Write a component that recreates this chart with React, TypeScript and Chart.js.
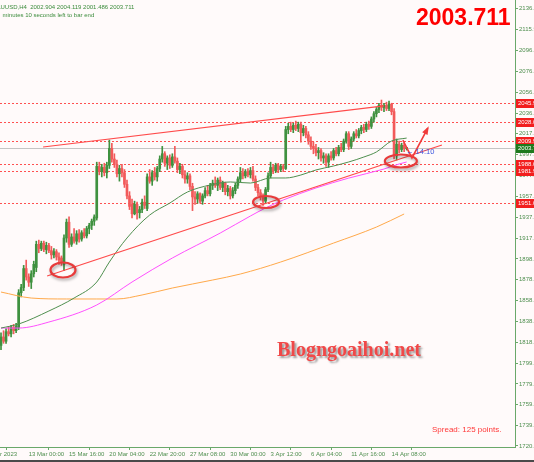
import React, { useEffect, useRef } from "react";
import { Chart, registerables } from "chart.js";
Chart.register(...registerables);

// ---------- data (XAUUSD, H4) ----------
const OPEN = [1816,1824,1820,1829,1827,1833,1830,1833,1866,1871, 1889,1881,1876,1884,1890,1912,1908,1913,1907,1911, 1906,1902,1905,1900,1899,1893,1918,1933,1912,1919, 1915,1922,1917,1923,1920,1927,1930,1934,1937,1986, 1981,1985,1980,1987,2003,1993,1988,1979,1984,1980, 1969,1958,1950,1941,1950,1942,1945,1952,1946,1976, 1972,1980,1976,1984,1993,1998,1989,1994,1987,1995, 1991,1983,1986,1978,1974,1977,1967,1957,1955,1960, 1953,1958,1963,1960,1968,1970,1968,1973,1966,1970, 1962,1965,1958,1963,1968,1974,1980,1977,1981,1978, 1982,1974,1966,1961,1957,1953,1964,1977,1985,1982, 1987,1983,1986,1984,2021,2024,2021,2025,2022,2026, 2018,2022,2016,2010,2005,2003,1999,2001,1994,1996, 1990,1996,1994,2001,1998,2004,2002,2010,2017,2005, 2012,2017,2015,2020,2023,2021,2026,2024,2031,2036, 2040,2044,2042,2044,2041,2045,2038,1996,2007,2002, 2006,2002.904];
const HIGH = [1828,1830,1832,1834,1835,1836,1837,1869,1874,1892, 1897,1884,1887,1896,1915,1916,1915,1915,1914,1913, 1910,1908,1907,1904,1901,1921,1936,1938,1922,1927, 1925,1926,1925,1927,1929,1932,1936,1940,1990,1990, 1988,1989,1990,2011,2008,1998,1992,1987,1988,1983, 1973,1962,1955,1953,1952,1948,1955,1958,1979,1983, 1982,1985,1986,1996,2005,2000,1996,1997,1998,2005, 1994,1989,1988,1982,1980,1979,1970,1962,1962,1961, 1960,1966,1968,1970,1973,1976,1975,1976,1972,1971, 1968,1967,1966,1970,1976,1985,1984,1983,1984,1985, 1986,1977,1969,1964,1960,1966,1980,1990,1988,1989, 1989,1988,1988,2024,2027,2028,2027,2029,2028,2028, 2025,2024,2019,2014,2009,2007,2004,2003,1999,1998, 1998,2000,2003,2004,2006,2008,2012,2019,2019,2014, 2019,2021,2022,2025,2026,2028,2029,2033,2038,2042, 2046,2049,2046,2047,2048,2046,2041,2012,2010,2008, 2008,2004.119];
const LOW = [1812,1818,1818,1825,1824,1827,1828,1831,1862,1868, 1878,1872,1870,1881,1886,1904,1906,1905,1903,1904, 1898,1899,1897,1893,1892,1887,1914,1909,1910,1913, 1912,1914,1915,1918,1918,1922,1926,1930,1935,1978, 1976,1977,1975,1984,1990,1985,1976,1972,1976,1966, 1955,1945,1937,1940,1936,1937,1942,1946,1944,1970, 1968,1973,1972,1981,1990,1986,1983,1984,1985,1989, 1980,1979,1975,1970,1970,1964,1944,1950,1951,1951, 1950,1956,1958,1958,1964,1966,1963,1964,1962,1959, 1958,1955,1956,1960,1965,1971,1974,1975,1976,1975, 1972,1963,1958,1954,1949,1951,1962,1975,1979,1980, 1980,1981,1981,1983,2017,2019,2018,2020,2019,2009, 2015,2013,2007,2002,1998,1996,1993,1991,1989,1986, 1985,1992,1992,1996,1996,2000,2000,2008,2002,2003, 2010,2013,2013,2017,2018,2019,2021,2022,2028,2033, 2037,2039,2038,2039,2039,2035,1993,1992,1999,2000, 2000,2001.486];
const CLOSE = [1824,1820,1829,1827,1833,1830,1834,1866,1871,1889, 1881,1876,1884,1893,1912,1908,1913,1907,1911,1906, 1902,1905,1900,1897,1895,1918,1933,1912,1919,1915, 1922,1917,1923,1920,1927,1930,1934,1938,1986,1981, 1985,1980,1987,2003,1993,1988,1979,1984,1980,1969, 1958,1948,1941,1950,1942,1945,1952,1949,1976,1972, 1980,1976,1984,1993,1998,1989,1994,1987,1995,1991, 1983,1986,1978,1974,1977,1967,1957,1955,1960,1953, 1958,1963,1960,1968,1970,1968,1973,1966,1970,1962, 1965,1958,1963,1968,1974,1980,1977,1981,1978,1982, 1974,1966,1961,1957,1953,1964,1977,1985,1982,1987, 1983,1986,1984,2021,2024,2021,2025,2022,2026,2018, 2022,2016,2010,2005,2003,1999,2001,1994,1996,1990, 1996,1994,2001,1998,2004,2002,2010,2017,2005,2012, 2017,2015,2020,2023,2021,2026,2024,2031,2036,2040, 2044,2042,2044,2041,2045,2038,1996,2007,2002,2006, 2002.904,2003.711];

// moving averages (bar index, value)
const FAST_MA_BARS = [0, 7, 19, 29, 38, 43, 50, 59, 67, 74, 83, 91, 99, 107, 113, 119, 125, 132, 138, 144, 149, 155, 161];
const FAST_MA = [1832.5, 1836.3, 1848.7, 1861.0, 1876.2, 1895.2, 1918.0, 1939.8, 1951.2, 1961.7, 1968.3, 1971.2, 1970.2, 1975.0, 1975.0, 1977.8, 1982.6, 1986.4, 1990.2, 1994.9, 1999.7, 2010.1, 2012.9];
const MID_MA_BARS = [0, 7, 19, 38, 52, 68, 87, 99, 105, 112, 125, 138, 152, 158, 161];
const MID_MA = [1832.5, 1832.5, 1838.2, 1854.4, 1876.2, 1899.0, 1922.7, 1938.9, 1946.5, 1954.1, 1965.5, 1974.9, 1983.5, 1988.3, 1990.2];
const SLOW_MA_BARS = [0, 12, 26, 38, 46, 56, 68, 84, 95, 111, 132, 149, 160];
const SLOW_MA = [1866.7, 1861.0, 1860.1, 1860.1, 1860.1, 1863.9, 1870.5, 1878.1, 1883.8, 1895.2, 1913.2, 1928.4, 1940.8];

// drawn objects
const UPPER_TREND_BARS = [16.7, 152];
const UPPER_TREND = [2004.4, 2043.5];
const LOWER_TREND_BARS = [18.3, 175];
const LOWER_TREND = [1881.9, 2006.3];
const LEVELS = [2045.9, 2028.0, 2009.9, 1988.0, 1981.9, 1951.0];
const BID = 2003.711;
const ELLIPSE_BARS = [24.6, 105.2, 158.7];
const ELLIPSE_PRICES = [1887.6, 1952.2, 1991.1];
const ARROW_BARS = [159.5, 163.1, 169.4];
const ARROW_PRICES = [2011.0, 1994.0, 2022.4];

// axes
const X_TICK_BARS = [-7, 11, 27, 43, 59, 75, 91, 107, 123, 139, 155];
const X_TICK_LABELS = ["10 Mar 2023", "13 Mar 00:00", "15 Mar 16:00", "20 Mar 04:00", "22 Mar 20:00", "27 Mar 08:00", "30 Mar 00:00", "3 Apr 12:00", "6 Apr 04:00", "11 Apr 16:00", "14 Apr 08:00"];
const Y_TICKS = [1720.5, 1739.9, 1759.7, 1779.5, 1799.3, 1818.9, 1838.7, 1858.5, 1878.3, 1898.1, 1917.9, 1937.7, 1957.5, 1977.3, 1997.1, 2017.0, 2036.7, 2056.5, 2076.3, 2096.1, 2115.9, 2136.4];
const X_MIN = -0.4;
const X_MAX = 204;
const Y_MIN = 1719.55;
const Y_MAX = 2144.0;

// ---------- styles ----------
const BG = "#FFFAFA";
const AXIS = "#6AA86A";
const AXIS_TEXT = "#4E8E4E";
const UP = "#3F913F";
const DOWN = "#F25A5A";
const SMALL_FONT = '"Liberation Sans", Arial, sans-serif';

export default function App() {
  const ref = useRef<HTMLCanvasElement>(null);

  useEffect(() => {
    document.body.style.margin = "0";
    const canvas = ref.current!;
    const colors = OPEN.map((o, i) => (CLOSE[i] >= o ? UP : DOWN));
    const pts = (xs: number[], ys: number[]) => xs.map((x, i) => ({ x, y: ys[i] }));

    const overlay = {
      id: "overlay",
      beforeDraw(chart: any) {
        const c = chart.ctx;
        c.save();
        c.fillStyle = BG;
        c.fillRect(0, 0, chart.width, chart.height);
        c.restore();
      },
      beforeDatasetsDraw(chart: any) {
        const c = chart.ctx;
        const { left, right } = chart.chartArea;
        const ys = chart.scales.y;
        c.save();
        c.strokeStyle = "#C4C4C4";
        c.lineWidth = 1;
        const by = Math.round(ys.getPixelForValue(BID)) + 0.5;
        c.beginPath();
        c.moveTo(left, by);
        c.lineTo(right, by);
        c.stroke();
        c.strokeStyle = "#FF5050";
        c.setLineDash([2, 2]);
        LEVELS.forEach((v) => {
          const y = Math.round(ys.getPixelForValue(v)) + 0.5;
          c.beginPath();
          c.moveTo(left, y);
          c.lineTo(right, y);
          c.stroke();
        });
        c.restore();
      },
      afterDatasetsDraw(chart: any) {
        const c = chart.ctx;
        const xs = chart.scales.x;
        const ys = chart.scales.y;
        const radii = [[12.5, 7.5], [13, 6], [16, 6.5]];
        c.save();
        ELLIPSE_BARS.forEach((b, i) => {
          const cx = xs.getPixelForValue(b);
          const cy = ys.getPixelForValue(ELLIPSE_PRICES[i]);
          c.save();
          c.shadowColor = "rgba(0,0,0,0.35)";
          c.shadowBlur = 3;
          c.shadowOffsetX = 1;
          c.shadowOffsetY = 2;
          c.strokeStyle = "#E83A3A";
          c.lineWidth = 2.2;
          c.beginPath();
          c.ellipse(cx, cy, radii[i][0], radii[i][1], 0, 0, Math.PI * 2);
          c.stroke();
          c.restore();
        });
        const ap = ARROW_BARS.map((b, i) => [xs.getPixelForValue(b), ys.getPixelForValue(ARROW_PRICES[i])]);
        c.strokeStyle = "#F03C3C";
        c.fillStyle = "#F03C3C";
        c.lineWidth = 1.6;
        c.beginPath();
        c.moveTo(ap[0][0], ap[0][1]);
        c.lineTo(ap[1][0], ap[1][1]);
        c.lineTo(ap[2][0], ap[2][1]);
        c.stroke();
        const ang = Math.atan2(ap[2][1] - ap[1][1], ap[2][0] - ap[1][0]);
        const L = 7;
        c.beginPath();
        c.moveTo(ap[2][0] + 2 * Math.cos(ang), ap[2][1] + 2 * Math.sin(ang));
        c.lineTo(ap[2][0] - L * Math.cos(ang - 0.45), ap[2][1] - L * Math.sin(ang - 0.45));
        c.lineTo(ap[2][0] - L * Math.cos(ang + 0.45), ap[2][1] - L * Math.sin(ang + 0.45));
        c.closePath();
        c.fill();
        c.restore();
      },
      afterDraw(chart: any) {
        const c = chart.ctx;
        const { right } = chart.chartArea;
        const ys = chart.scales.y;
        c.save();
        c.textBaseline = "middle";
        c.font = `6px ${SMALL_FONT}`;
        const box = (v: number, bg: string) => {
          const y = ys.getPixelForValue(v);
          c.fillStyle = bg;
          c.fillRect(right + 1, Math.round(y) - 4, chart.width - right, 9);
          c.fillStyle = "#FFFFFF";
          c.fillText(v.toFixed(2), right + 3, Math.round(y) + 0.5);
        };
        LEVELS.forEach((v) => box(v, "#F21E1E"));
        box(BID, "#1E7A1E");

        c.textBaseline = "alphabetic";
        c.fillStyle = "#3C8C3C";
        c.font = `6px ${SMALL_FONT}`;
        const head = "XAUUSD,H4  2002.904 2004.119 2001.486 2003.711";
        c.fillText(head, -c.measureText("XA").width + 0.5, 9);
        c.fillText("minutes 10 seconds left to bar end", 2.5, 17);

        c.fillStyle = "#FF0000";
        c.font = 'bold 23px "Liberation Sans", Arial, sans-serif';
        c.fillText("2003.711", 416, 25);

        c.fillStyle = "#3A55E0";
        c.font = `7.5px ${SMALL_FONT}`;
        c.fillText("\u2190 14:10", 406, 154);

        c.fillStyle = "#FF3838";
        c.font = '8px "Liberation Sans", Arial, sans-serif';
        c.fillText("Spread: 125 points.", 432, 432);

        c.save();
        c.shadowColor = "rgba(80,80,80,0.55)";
        c.shadowBlur = 2;
        c.shadowOffsetX = 2;
        c.shadowOffsetY = 2;
        c.fillStyle = "#F04848";
        c.font = 'bold 20px "Liberation Serif", "Times New Roman", serif';
        c.fillText("Blogngoaihoi.net", 277, 356);
        c.restore();
        c.restore();
      },
    };

    const chart = new Chart(canvas, {
      type: "bar",
      data: {
        datasets: [
          { type: "line", label: "upper", data: pts(UPPER_TREND_BARS, UPPER_TREND), borderColor: "#FF4A4A", borderWidth: 1.2, pointRadius: 0, order: 0 } as any,
          { type: "line", label: "lower", data: pts(LOWER_TREND_BARS, LOWER_TREND), borderColor: "#FF4A4A", borderWidth: 1.2, pointRadius: 0, order: 0 } as any,
          { type: "line", label: "fast", data: pts(FAST_MA_BARS, FAST_MA), borderColor: "#4F8F4F", borderWidth: 1, pointRadius: 0, cubicInterpolationMode: "monotone", order: 1 } as any,
          { type: "line", label: "mid", data: pts(MID_MA_BARS, MID_MA), borderColor: "#FF50FF", borderWidth: 1, pointRadius: 0, cubicInterpolationMode: "monotone", order: 1 } as any,
          { type: "line", label: "slow", data: pts(SLOW_MA_BARS, SLOW_MA), borderColor: "#FFA94A", borderWidth: 1, pointRadius: 0, cubicInterpolationMode: "monotone", order: 1 } as any,
          { type: "bar", label: "bodies", data: OPEN.map((o, i) => ({ x: i, y: [o, CLOSE[i]] })), backgroundColor: colors, barThickness: 2, minBarLength: 1, grouped: false, order: 2 } as any,
          { type: "bar", label: "wicks", data: OPEN.map((o, i) => ({ x: i, y: [LOW[i], HIGH[i]] })), backgroundColor: colors, barThickness: 1, grouped: false, order: 3 } as any,
        ],
      },
      options: {
        animation: false,
        responsive: false,
        events: [],
        layout: { padding: 0 },
        plugins: { legend: { display: false }, tooltip: { enabled: false } },
        scales: {
          x: {
            type: "linear",
            position: "bottom",
            min: X_MIN,
            max: X_MAX,
            offset: false,
            grid: { display: true, drawOnChartArea: false, drawTicks: true, tickLength: 3, color: AXIS },
            border: { display: true, color: AXIS, width: 1 },
            ticks: {
              autoSkip: false,
              maxRotation: 0,
              align: "start",
              padding: 1,
              color: AXIS_TEXT,
              font: { size: 6, family: SMALL_FONT },
              callback: (_v: any, i: number) => X_TICK_LABELS[i],
            },
            afterBuildTicks: (s: any) => {
              s.ticks = X_TICK_BARS.map((v) => ({ value: v }));
            },
            afterFit: (s: any) => {
              s.height = 13;
              s.paddingLeft = 0;
              s.paddingRight = 0;
            },
          } as any,
          y: {
            type: "linear",
            position: "right",
            min: Y_MIN,
            max: Y_MAX,
            grid: { display: true, drawOnChartArea: false, drawTicks: true, tickLength: 3, color: AXIS },
            border: { display: true, color: AXIS, width: 1 },
            ticks: {
              autoSkip: false,
              padding: 1,
              color: AXIS_TEXT,
              font: { size: 6, family: SMALL_FONT },
              callback: (v: any) => Number(v).toFixed(2),
            },
            afterBuildTicks: (s: any) => {
              s.ticks = Y_TICKS.map((v) => ({ value: v }));
            },
            afterFit: (s: any) => {
              s.width = 19;
              s.paddingTop = 0;
              s.paddingBottom = 0;
            },
          } as any,
        },
      },
      plugins: [overlay],
    } as any);
    return () => chart.destroy();
  }, []);

  return (
    <div style={{ width: 534, height: 462, background: BG, overflow: "hidden" }}>
      <canvas ref={ref} width={534} height={460} style={{ display: "block" }} />
      <div style={{ height: 2, background: "#4A4A4A" }} />
    </div>
  );
}
